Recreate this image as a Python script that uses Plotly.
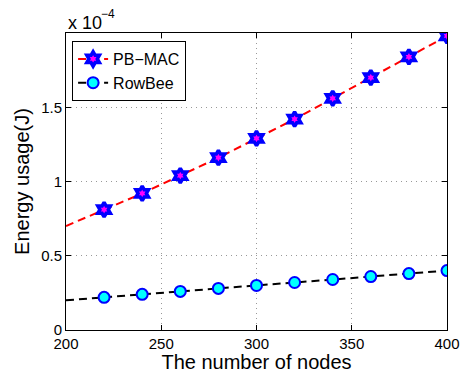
import plotly.graph_objects as go

nodes = [200, 220, 240, 260, 280, 300, 320, 340, 360, 380, 400]
pbmac = [0.70, 0.81, 0.92, 1.04, 1.16, 1.29, 1.42, 1.56, 1.70, 1.84, 1.98]
rowbee = [0.20, 0.22, 0.24, 0.26, 0.28, 0.30, 0.32, 0.34, 0.36, 0.38, 0.40]
ytick_vals = [0, 0.5, 1, 1.5, 2]
ytick_text = ["0", "0.5", "1", "1.5", ""]
xtick_vals = [200, 250, 300, 350, 400]

font = "Liberation Sans, Arial, sans-serif"
fig = go.Figure()

dash = "8px,5px"
# line segments from first point (no marker there)
fig.add_trace(go.Scatter(x=nodes[:2], y=pbmac[:2], mode="lines",
                         line=dict(color="red", width=2, dash=dash), showlegend=False))
fig.add_trace(go.Scatter(x=nodes[:2], y=rowbee[:2], mode="lines",
                         line=dict(color="black", width=2, dash=dash), showlegend=False))

fig.add_trace(go.Scatter(x=nodes[1:], y=pbmac[1:], mode="lines+markers", name="PB\u2212MAC",
                         line=dict(color="red", width=2, dash=dash),
                         marker=dict(symbol="hexagram", size=11, color="magenta",
                                     line=dict(color="blue", width=3.5))))
fig.add_trace(go.Scatter(x=nodes[1:], y=rowbee[1:], mode="lines+markers", name="RowBee",
                         line=dict(color="black", width=2, dash=dash),
                         marker=dict(symbol="circle", size=11, color="cyan",
                                     line=dict(color="blue", width=2))))

axis_common = dict(showline=True, linecolor="black", linewidth=1, mirror="ticks",
                   ticks="inside", ticklen=5, tickcolor="black", automargin=False,
                   showgrid=True, gridcolor="#999999", griddash="1px,4px", gridwidth=1,
                   zeroline=False, tickfont=dict(size=15, color="black", family=font))

fig.update_xaxes(range=[200, 400], tickvals=xtick_vals,
                 title=dict(text="The number of nodes", font=dict(size=20, color="black", family=font), standoff=2),
                 **axis_common)
fig.update_yaxes(range=[0, 2], tickvals=ytick_vals, ticktext=ytick_text,
                 title=dict(text="Energy usage(J)", font=dict(size=20, color="black", family=font), standoff=6),
                 **axis_common)

fig.add_annotation(text="x 10", xref="paper", yref="paper", x=0, y=1.0,
                   xanchor="left", yanchor="bottom", showarrow=False,
                   font=dict(size=18, color="black", family=font), yshift=-2)
fig.add_annotation(text="\u22124", xref="paper", yref="paper", x=0, y=1.0,
                   xanchor="left", yanchor="bottom", showarrow=False,
                   font=dict(size=12, color="black", family=font), xshift=33, yshift=10)

fig.update_layout(width=460, height=373, margin=dict(l=66, r=13, t=33, b=43),
                  plot_bgcolor="white", paper_bgcolor="white",
                  font=dict(family=font, color="black"),
                  legend=dict(x=0.016, y=0.973, xanchor="left", yanchor="top",
                              bordercolor="black", borderwidth=1, bgcolor="white",
                              font=dict(size=16, color="black", family=font),
                              tracegroupgap=0, itemwidth=30))

fig.write_html("out.html")
